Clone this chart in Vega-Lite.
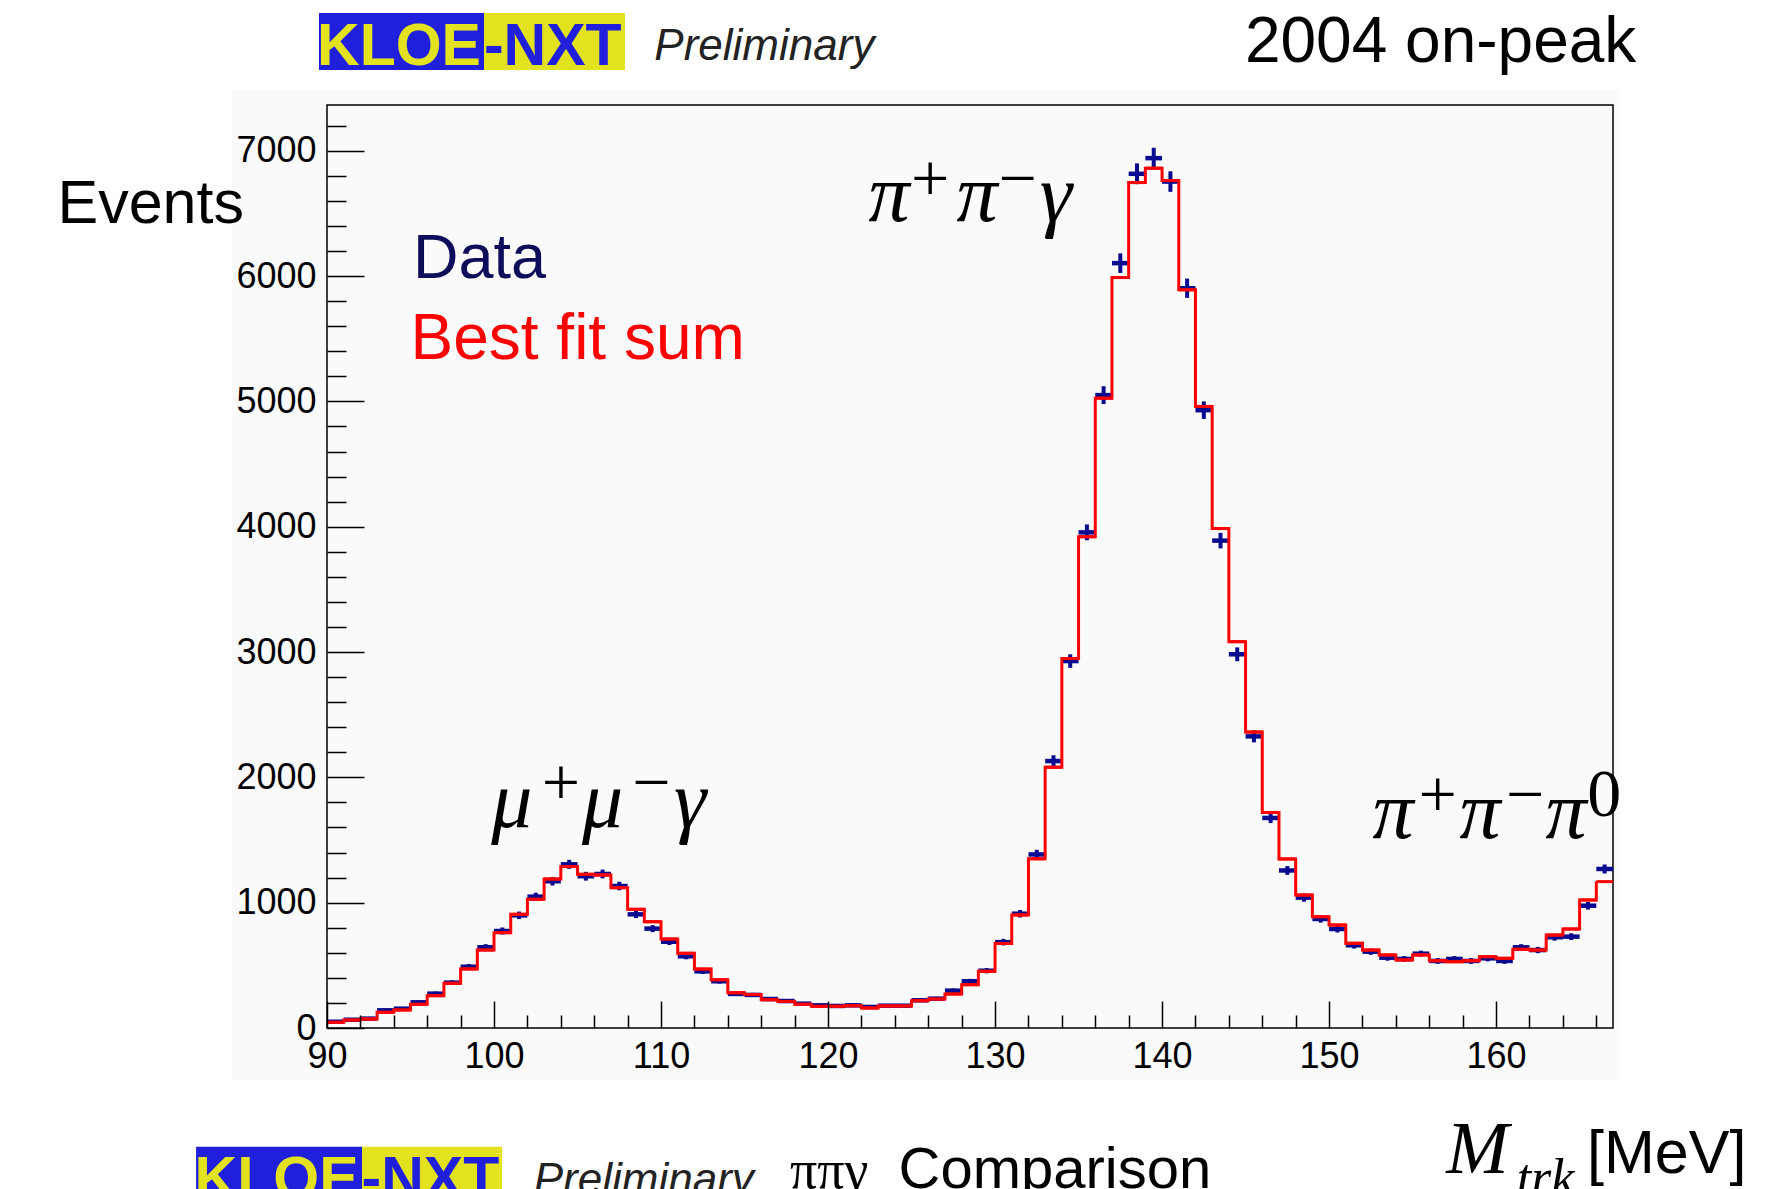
{
  "$schema": "https://vega.github.io/schema/vega-lite/v6.json",
  "width": 1286,
  "height": 923,
  "autosize": {"type": "none"},
  "padding": {"left": 327, "top": 105, "right": 175, "bottom": 161},
  "background": "white",
  "config": {"view": {"stroke": null}, "axis": {"labelOverlap": false, "labelFlush": false, "labelBound": false}},
  "resolve": {"axis": {"x": "independent", "y": "independent"}},
  "layer": [
    {
      "data": {"values": [{"x0": 84.31, "x1": 167.37, "y0": -415, "y1": 7484}]},
      "mark": {"type": "rect", "color": "#fafafa"},
      "encoding": {
        "x": {"field": "x0", "type": "quantitative", "scale": {"domain": [90, 167], "nice": false, "zero": false}, "title": null,
          "axis": {
            "orient": "bottom",
            "values": [90,100,110,120,130,140,150,160],
            "format": "d",
            "tickSize": -27,
            "tickColor": "black", "tickWidth": 1.5, "domain": false, "grid": false,
            "labelFont": "Liberation Sans", "labelFontSize": 36, "labelColor": "black",
            "labelPadding": 38, "labelFlush": false, "labelOverlap": false, "labelBound": false, "zindex": 1
          }},
        "x2": {"field": "x1"},
        "y": {"field": "y0", "type": "quantitative", "scale": {"domain": [0, 7365], "nice": false, "zero": false}, "title": null,
          "axis": {
            "orient": "left",
            "values": [0,1000,2000,3000,4000,5000,6000,7000],
            "format": "d",
            "tickSize": -37,
            "tickColor": "black", "tickWidth": 1.5, "domain": false, "grid": false,
            "labelFont": "Liberation Sans", "labelFontSize": 36, "labelColor": "black",
            "labelPadding": 48, "labelFlush": false, "labelOverlap": false, "labelBound": false, "zindex": 1
          }},
        "y2": {"field": "y1"}
      }
    },
    {
      "data": {"values": [{}]},
      "mark": {"type": "rect", "filled": false, "color": "black", "strokeWidth": 1.5},
      "encoding": {}
    },
    {
      "data": {"name": "hist"},
      "mark": {"type": "rule", "color": "#0a0a90", "strokeWidth": 4.5},
      "encoding": {
        "x": {"field": "lo", "type": "quantitative", "scale": {"domain": [90, 167], "nice": false, "zero": false}, "title": null,
          "axis": {
            "orient": "bottom",
            "values": [92,94,96,98,102,104,106,108,112,114,116,118,122,124,126,128,132,134,136,138,142,144,146,148,152,154,156,158,162,164,166],
            "labels": false, "domain": false, "grid": false,
            "tickSize": -13, "tickColor": "black", "tickWidth": 1.5, "zindex": 1
          }},
        "x2": {"field": "hi"},
        "y": {"field": "n", "type": "quantitative", "scale": {"domain": [0, 7365], "nice": false, "zero": false}, "title": null,
          "axis": {
            "orient": "left",
            "values": [200,400,600,800,1200,1400,1600,1800,2200,2400,2600,2800,3200,3400,3600,3800,4200,4400,4600,4800,5200,5400,5600,5800,6200,6400,6600,6800,7200],
            "labels": false, "domain": false, "grid": false,
            "tickSize": -19, "tickColor": "black", "tickWidth": 1.5, "zindex": 1
          }}
      }
    },
    {
      "data": {"name": "hist"},
      "mark": {"type": "errorbar", "color": "#0a0a90", "thickness": 4},
      "encoding": {
        "x": {"field": "m", "type": "quantitative", "scale": {"domain": [90, 167], "nice": false, "zero": false}, "title": null, "axis": null},
        "y": {"field": "n", "type": "quantitative", "scale": {"domain": [0, 7365], "nice": false, "zero": false}, "title": null, "axis": null},
        "yError": {"field": "err"}
      }
    },
    {
      "data": {"name": "hist"},
      "mark": {"type": "line", "interpolate": "step-after", "color": "#ff0000", "strokeWidth": 3},
      "encoding": {
        "x": {"field": "lo", "type": "quantitative", "scale": {"domain": [90, 167], "nice": false, "zero": false}, "title": null, "axis": null},
        "y": {"field": "fit", "type": "quantitative", "scale": {"domain": [0, 7365], "nice": false, "zero": false}, "title": null, "axis": null}
      }
    },
    {
      "data": {"name": "hist"},
      "mark": {"type": "rule", "color": "#ff0000", "strokeWidth": 3},
      "encoding": {
        "x": {"field": "lo", "type": "quantitative", "scale": {"domain": [90, 167], "nice": false, "zero": false}, "title": null, "axis": null},
        "x2": {"field": "hi"},
        "y": {"field": "fit", "type": "quantitative", "scale": {"domain": [0, 7365], "nice": false, "zero": false}, "title": null, "axis": null}
      }
    },
    {
      "data": {"values": [{"x0": 89.52, "x1": 99.40, "y0": 7644, "y1": 8099}, {"x0": 82.16, "x1": 92.10, "y0": -1400, "y1": -947}]},
      "mark": {"type": "rect", "color": "#2020dc"},
      "encoding": {
        "x": {"field": "x0", "type": "quantitative", "scale": {"domain": [90, 167], "nice": false, "zero": false}, "title": null, "axis": null},
        "x2": {"field": "x1"},
        "y": {"field": "y0", "type": "quantitative", "scale": {"domain": [0, 7365], "nice": false, "zero": false}, "title": null, "axis": null},
        "y2": {"field": "y1"}
      }
    },
    {
      "data": {"values": [{"x0": 99.40, "x1": 107.84, "y0": 7644, "y1": 8099}, {"x0": 92.10, "x1": 100.48, "y0": -1400, "y1": -947}]},
      "mark": {"type": "rect", "color": "#e2e21e"},
      "encoding": {
        "x": {"field": "x0", "type": "quantitative", "scale": {"domain": [90, 167], "nice": false, "zero": false}, "title": null, "axis": null},
        "x2": {"field": "x1"},
        "y": {"field": "y0", "type": "quantitative", "scale": {"domain": [0, 7365], "nice": false, "zero": false}, "title": null, "axis": null},
        "y2": {"field": "y1"}
      }
    },
    {
      "data": {"values": [{"t": "KLOE", "x": 94.31, "y": 7684}, {"t": "KLOE", "x": 86.98, "y": -1355}]},
      "mark": {"type": "text", "font": "Liberation Sans", "fontWeight": "bold", "fontSize": 59, "align": "center", "baseline": "alphabetic", "color": "#e2e21e"},
      "encoding": {
        "x": {"field": "x", "type": "quantitative", "scale": {"domain": [90, 167], "nice": false, "zero": false}, "title": null, "axis": null},
        "y": {"field": "y", "type": "quantitative", "scale": {"domain": [0, 7365], "nice": false, "zero": false}, "title": null, "axis": null},
        "text": {"field": "t"}
      }
    },
    {
      "data": {"values": [{"t": "-NXT", "x": 103.52, "y": 7684}, {"t": "-NXT", "x": 96.19, "y": -1355}]},
      "mark": {"type": "text", "font": "Liberation Sans", "fontWeight": "bold", "fontSize": 59, "align": "center", "baseline": "alphabetic", "color": "#2020dc"},
      "encoding": {
        "x": {"field": "x", "type": "quantitative", "scale": {"domain": [90, 167], "nice": false, "zero": false}, "title": null, "axis": null},
        "y": {"field": "y", "type": "quantitative", "scale": {"domain": [0, 7365], "nice": false, "zero": false}, "title": null, "axis": null},
        "text": {"field": "t"}
      }
    },
    {
      "data": {"values": [{"t": "Preliminary", "x": 109.60, "y": 7724}, {"t": "Preliminary", "x": 102.38, "y": -1322}]},
      "mark": {"type": "text", "font": "Liberation Sans", "fontStyle": "italic", "fontSize": 44, "align": "left", "baseline": "alphabetic", "color": "#222222"},
      "encoding": {
        "x": {"field": "x", "type": "quantitative", "scale": {"domain": [90, 167], "nice": false, "zero": false}, "title": null, "axis": null},
        "y": {"field": "y", "type": "quantitative", "scale": {"domain": [0, 7365], "nice": false, "zero": false}, "title": null, "axis": null},
        "text": {"field": "t"}
      }
    },
    {
      "data": {"values": [{"t": "2004 on-peak", "x": 144.96, "y": 7708}]},
      "mark": {"type": "text", "font": "Liberation Sans", "fontSize": 64, "align": "left", "baseline": "alphabetic", "color": "black"},
      "encoding": {
        "x": {"field": "x", "type": "quantitative", "scale": {"domain": [90, 167], "nice": false, "zero": false}, "title": null, "axis": null},
        "y": {"field": "y", "type": "quantitative", "scale": {"domain": [0, 7365], "nice": false, "zero": false}, "title": null, "axis": null},
        "text": {"field": "t"}
      }
    },
    {
      "data": {"values": [{"t": "Events", "x": 73.86, "y": 6425}, {"t": "[MeV]", "x": 165.45, "y": -1159}]},
      "mark": {"type": "text", "font": "Liberation Sans", "fontSize": 61, "align": "left", "baseline": "alphabetic", "color": "black"},
      "encoding": {
        "x": {"field": "x", "type": "quantitative", "scale": {"domain": [90, 167], "nice": false, "zero": false}, "title": null, "axis": null},
        "y": {"field": "y", "type": "quantitative", "scale": {"domain": [0, 7365], "nice": false, "zero": false}, "title": null, "axis": null},
        "text": {"field": "t"}
      }
    },
    {
      "data": {"values": [{"t": "Comparison", "x": 124.22, "y": -1273}]},
      "mark": {"type": "text", "font": "Liberation Sans", "fontSize": 58, "align": "left", "baseline": "alphabetic", "color": "black"},
      "encoding": {
        "x": {"field": "x", "type": "quantitative", "scale": {"domain": [90, 167], "nice": false, "zero": false}, "title": null, "axis": null},
        "y": {"field": "y", "type": "quantitative", "scale": {"domain": [0, 7365], "nice": false, "zero": false}, "title": null, "axis": null},
        "text": {"field": "t"}
      }
    },
    {
      "data": {"values": [{"t": "ππγ", "x": 117.72, "y": -1273}]},
      "mark": {"type": "text", "font": "Liberation Serif", "fontSize": 54, "align": "left", "baseline": "alphabetic", "color": "black"},
      "encoding": {
        "x": {"field": "x", "type": "quantitative", "scale": {"domain": [90, 167], "nice": false, "zero": false}, "title": null, "axis": null},
        "y": {"field": "y", "type": "quantitative", "scale": {"domain": [0, 7365], "nice": false, "zero": false}, "title": null, "axis": null},
        "text": {"field": "t"}
      }
    },
    {
      "data": {"values": [{"t": "Data", "x": 95.15, "y": 5982}]},
      "mark": {"type": "text", "font": "Liberation Sans", "fontSize": 63, "align": "left", "baseline": "alphabetic", "color": "#0d0d5a"},
      "encoding": {
        "x": {"field": "x", "type": "quantitative", "scale": {"domain": [90, 167], "nice": false, "zero": false}, "title": null, "axis": null},
        "y": {"field": "y", "type": "quantitative", "scale": {"domain": [0, 7365], "nice": false, "zero": false}, "title": null, "axis": null},
        "text": {"field": "t"}
      }
    },
    {
      "data": {"values": [{"t": "Best fit sum", "x": 95.0, "y": 5336}]},
      "mark": {"type": "text", "font": "Liberation Sans", "fontSize": 64, "align": "left", "baseline": "alphabetic", "color": "#ff0000"},
      "encoding": {
        "x": {"field": "x", "type": "quantitative", "scale": {"domain": [90, 167], "nice": false, "zero": false}, "title": null, "axis": null},
        "y": {"field": "y", "type": "quantitative", "scale": {"domain": [0, 7365], "nice": false, "zero": false}, "title": null, "axis": null},
        "text": {"field": "t"}
      }
    },
    {
      "data": {"values": [
        {"t": "π", "x": 123.65, "y": 6439}, {"t": "π", "x": 128.92, "y": 6439}, {"t": "γ", "x": 133.65, "y": 6439},
        {"t": "μ", "x": 101.06, "y": 1606}, {"t": "μ", "x": 106.50, "y": 1606}, {"t": "γ", "x": 111.74, "y": 1606},
        {"t": "π", "x": 153.83, "y": 1514}, {"t": "π", "x": 159.04, "y": 1514}, {"t": "π", "x": 164.19, "y": 1514}
      ]},
      "mark": {"type": "text", "font": "Liberation Serif", "fontStyle": "italic", "fontSize": 82, "align": "center", "baseline": "alphabetic", "color": "black"},
      "encoding": {
        "x": {"field": "x", "type": "quantitative", "scale": {"domain": [90, 167], "nice": false, "zero": false}, "title": null, "axis": null},
        "y": {"field": "y", "type": "quantitative", "scale": {"domain": [0, 7365], "nice": false, "zero": false}, "title": null, "axis": null},
        "text": {"field": "t"}
      }
    },
    {
      "data": {"values": [
        {"t": "+", "x": 126.11, "y": 6760}, {"t": "−", "x": 131.35, "y": 6760},
        {"t": "+", "x": 104.01, "y": 1940}, {"t": "−", "x": 109.42, "y": 1940},
        {"t": "+", "x": 156.50, "y": 1845}, {"t": "−", "x": 161.74, "y": 1845}, {"t": "0", "x": 166.47, "y": 1850}
      ]},
      "mark": {"type": "text", "font": "Liberation Serif", "fontSize": 68, "align": "center", "baseline": "middle", "color": "black"},
      "encoding": {
        "x": {"field": "x", "type": "quantitative", "scale": {"domain": [90, 167], "nice": false, "zero": false}, "title": null, "axis": null},
        "y": {"field": "y", "type": "quantitative", "scale": {"domain": [0, 7365], "nice": false, "zero": false}, "title": null, "axis": null},
        "text": {"field": "t"}
      }
    },
    {
      "data": {"values": [{"t": "M", "x": 157.01, "y": -1159}]},
      "mark": {"type": "text", "font": "Liberation Serif", "fontStyle": "italic", "fontSize": 75, "align": "left", "baseline": "alphabetic", "color": "black"},
      "encoding": {
        "x": {"field": "x", "type": "quantitative", "scale": {"domain": [90, 167], "nice": false, "zero": false}, "title": null, "axis": null},
        "y": {"field": "y", "type": "quantitative", "scale": {"domain": [0, 7365], "nice": false, "zero": false}, "title": null, "axis": null},
        "text": {"field": "t"}
      }
    },
    {
      "data": {"values": [{"t": "trk", "x": 161.23, "y": -1332}]},
      "mark": {"type": "text", "font": "Liberation Serif", "fontStyle": "italic", "fontSize": 52, "align": "left", "baseline": "alphabetic", "color": "black"},
      "encoding": {
        "x": {"field": "x", "type": "quantitative", "scale": {"domain": [90, 167], "nice": false, "zero": false}, "title": null, "axis": null},
        "y": {"field": "y", "type": "quantitative", "scale": {"domain": [0, 7365], "nice": false, "zero": false}, "title": null, "axis": null},
        "text": {"field": "t"}
      }
    }
  ],
  "datasets": {
    "hist": [
      {"lo": 90, "hi": 91, "m": 90.5, "fit": 45, "n": 50, "err": 7},
      {"lo": 91, "hi": 92, "m": 91.5, "fit": 64, "n": 66, "err": 8},
      {"lo": 92, "hi": 93, "m": 92.5, "fit": 72, "n": 75, "err": 9},
      {"lo": 93, "hi": 94, "m": 93.5, "fit": 125, "n": 141, "err": 12},
      {"lo": 94, "hi": 95, "m": 94.5, "fit": 144, "n": 154, "err": 12},
      {"lo": 95, "hi": 96, "m": 95.5, "fit": 189, "n": 205, "err": 14},
      {"lo": 96, "hi": 97, "m": 96.5, "fit": 258, "n": 274, "err": 17},
      {"lo": 97, "hi": 98, "m": 97.5, "fit": 357, "n": 362, "err": 19},
      {"lo": 98, "hi": 99, "m": 98.5, "fit": 471, "n": 489, "err": 22},
      {"lo": 99, "hi": 100, "m": 99.5, "fit": 622, "n": 644, "err": 25},
      {"lo": 100, "hi": 101, "m": 100.5, "fit": 761, "n": 774, "err": 28},
      {"lo": 101, "hi": 102, "m": 101.5, "fit": 907, "n": 899, "err": 30},
      {"lo": 102, "hi": 103, "m": 102.5, "fit": 1027, "n": 1048, "err": 32},
      {"lo": 103, "hi": 104, "m": 103.5, "fit": 1189, "n": 1171, "err": 34},
      {"lo": 104, "hi": 105, "m": 104.5, "fit": 1288, "n": 1306, "err": 36},
      {"lo": 105, "hi": 106, "m": 105.5, "fit": 1226, "n": 1211, "err": 35},
      {"lo": 106, "hi": 107, "m": 106.5, "fit": 1221, "n": 1229, "err": 35},
      {"lo": 107, "hi": 108, "m": 107.5, "fit": 1120, "n": 1133, "err": 34},
      {"lo": 108, "hi": 109, "m": 108.5, "fit": 947, "n": 907, "err": 30},
      {"lo": 109, "hi": 110, "m": 109.5, "fit": 848, "n": 793, "err": 28},
      {"lo": 110, "hi": 111, "m": 110.5, "fit": 710, "n": 688, "err": 26},
      {"lo": 111, "hi": 112, "m": 111.5, "fit": 596, "n": 572, "err": 24},
      {"lo": 112, "hi": 113, "m": 112.5, "fit": 470, "n": 452, "err": 21},
      {"lo": 113, "hi": 114, "m": 113.5, "fit": 385, "n": 373, "err": 19},
      {"lo": 114, "hi": 115, "m": 114.5, "fit": 281, "n": 272, "err": 16},
      {"lo": 115, "hi": 116, "m": 115.5, "fit": 267, "n": 264, "err": 16},
      {"lo": 116, "hi": 117, "m": 116.5, "fit": 226, "n": 231, "err": 15},
      {"lo": 117, "hi": 118, "m": 117.5, "fit": 212, "n": 215, "err": 15},
      {"lo": 118, "hi": 119, "m": 118.5, "fit": 189, "n": 194, "err": 14},
      {"lo": 119, "hi": 120, "m": 119.5, "fit": 173, "n": 181, "err": 13},
      {"lo": 120, "hi": 121, "m": 120.5, "fit": 173, "n": 176, "err": 13},
      {"lo": 121, "hi": 122, "m": 121.5, "fit": 178, "n": 181, "err": 13},
      {"lo": 122, "hi": 123, "m": 122.5, "fit": 160, "n": 168, "err": 13},
      {"lo": 123, "hi": 124, "m": 123.5, "fit": 176, "n": 178, "err": 13},
      {"lo": 124, "hi": 125, "m": 124.5, "fit": 176, "n": 178, "err": 13},
      {"lo": 125, "hi": 126, "m": 125.5, "fit": 218, "n": 221, "err": 15},
      {"lo": 126, "hi": 127, "m": 126.5, "fit": 231, "n": 234, "err": 15},
      {"lo": 127, "hi": 128, "m": 127.5, "fit": 271, "n": 298, "err": 17},
      {"lo": 128, "hi": 129, "m": 128.5, "fit": 346, "n": 373, "err": 19},
      {"lo": 129, "hi": 130, "m": 129.5, "fit": 452, "n": 457, "err": 21},
      {"lo": 130, "hi": 131, "m": 130.5, "fit": 675, "n": 685, "err": 26},
      {"lo": 131, "hi": 132, "m": 131.5, "fit": 902, "n": 912, "err": 30},
      {"lo": 132, "hi": 133, "m": 132.5, "fit": 1350, "n": 1385, "err": 37},
      {"lo": 133, "hi": 134, "m": 133.5, "fit": 2081, "n": 2130, "err": 46},
      {"lo": 134, "hi": 135, "m": 134.5, "fit": 2948, "n": 2928, "err": 54},
      {"lo": 135, "hi": 136, "m": 135.5, "fit": 3920, "n": 3955, "err": 63},
      {"lo": 136, "hi": 137, "m": 136.5, "fit": 5026, "n": 5050, "err": 71},
      {"lo": 137, "hi": 138, "m": 137.5, "fit": 5988, "n": 6103, "err": 78},
      {"lo": 138, "hi": 139, "m": 138.5, "fit": 6746, "n": 6816, "err": 83},
      {"lo": 139, "hi": 140, "m": 139.5, "fit": 6861, "n": 6941, "err": 83},
      {"lo": 140, "hi": 141, "m": 140.5, "fit": 6762, "n": 6754, "err": 82},
      {"lo": 141, "hi": 142, "m": 141.5, "fit": 5890, "n": 5903, "err": 77},
      {"lo": 142, "hi": 143, "m": 142.5, "fit": 4960, "n": 4930, "err": 70},
      {"lo": 143, "hi": 144, "m": 143.5, "fit": 3985, "n": 3889, "err": 62},
      {"lo": 144, "hi": 145, "m": 144.5, "fit": 3083, "n": 2982, "err": 55},
      {"lo": 145, "hi": 146, "m": 145.5, "fit": 2361, "n": 2327, "err": 48},
      {"lo": 146, "hi": 147, "m": 146.5, "fit": 1720, "n": 1676, "err": 41},
      {"lo": 147, "hi": 148, "m": 147.5, "fit": 1349, "n": 1257, "err": 35},
      {"lo": 148, "hi": 149, "m": 148.5, "fit": 1061, "n": 1040, "err": 32},
      {"lo": 149, "hi": 150, "m": 149.5, "fit": 888, "n": 870, "err": 29},
      {"lo": 150, "hi": 151, "m": 150.5, "fit": 822, "n": 790, "err": 28},
      {"lo": 151, "hi": 152, "m": 151.5, "fit": 676, "n": 660, "err": 26},
      {"lo": 152, "hi": 153, "m": 152.5, "fit": 622, "n": 609, "err": 25},
      {"lo": 153, "hi": 154, "m": 153.5, "fit": 583, "n": 561, "err": 24},
      {"lo": 154, "hi": 155, "m": 154.5, "fit": 543, "n": 551, "err": 23},
      {"lo": 155, "hi": 156, "m": 155.5, "fit": 583, "n": 593, "err": 24},
      {"lo": 156, "hi": 157, "m": 156.5, "fit": 537, "n": 535, "err": 23},
      {"lo": 157, "hi": 158, "m": 157.5, "fit": 529, "n": 551, "err": 23},
      {"lo": 158, "hi": 159, "m": 158.5, "fit": 537, "n": 535, "err": 23},
      {"lo": 159, "hi": 160, "m": 159.5, "fit": 569, "n": 556, "err": 24},
      {"lo": 160, "hi": 161, "m": 160.5, "fit": 556, "n": 535, "err": 23},
      {"lo": 161, "hi": 162, "m": 161.5, "fit": 628, "n": 644, "err": 25},
      {"lo": 162, "hi": 163, "m": 162.5, "fit": 622, "n": 622, "err": 25},
      {"lo": 163, "hi": 164, "m": 163.5, "fit": 742, "n": 724, "err": 27},
      {"lo": 164, "hi": 165, "m": 164.5, "fit": 790, "n": 729, "err": 27},
      {"lo": 165, "hi": 166, "m": 165.5, "fit": 1022, "n": 976, "err": 31},
      {"lo": 166, "hi": 167, "m": 166.5, "fit": 1168, "n": 1269, "err": 36}
    ]
  }
}
